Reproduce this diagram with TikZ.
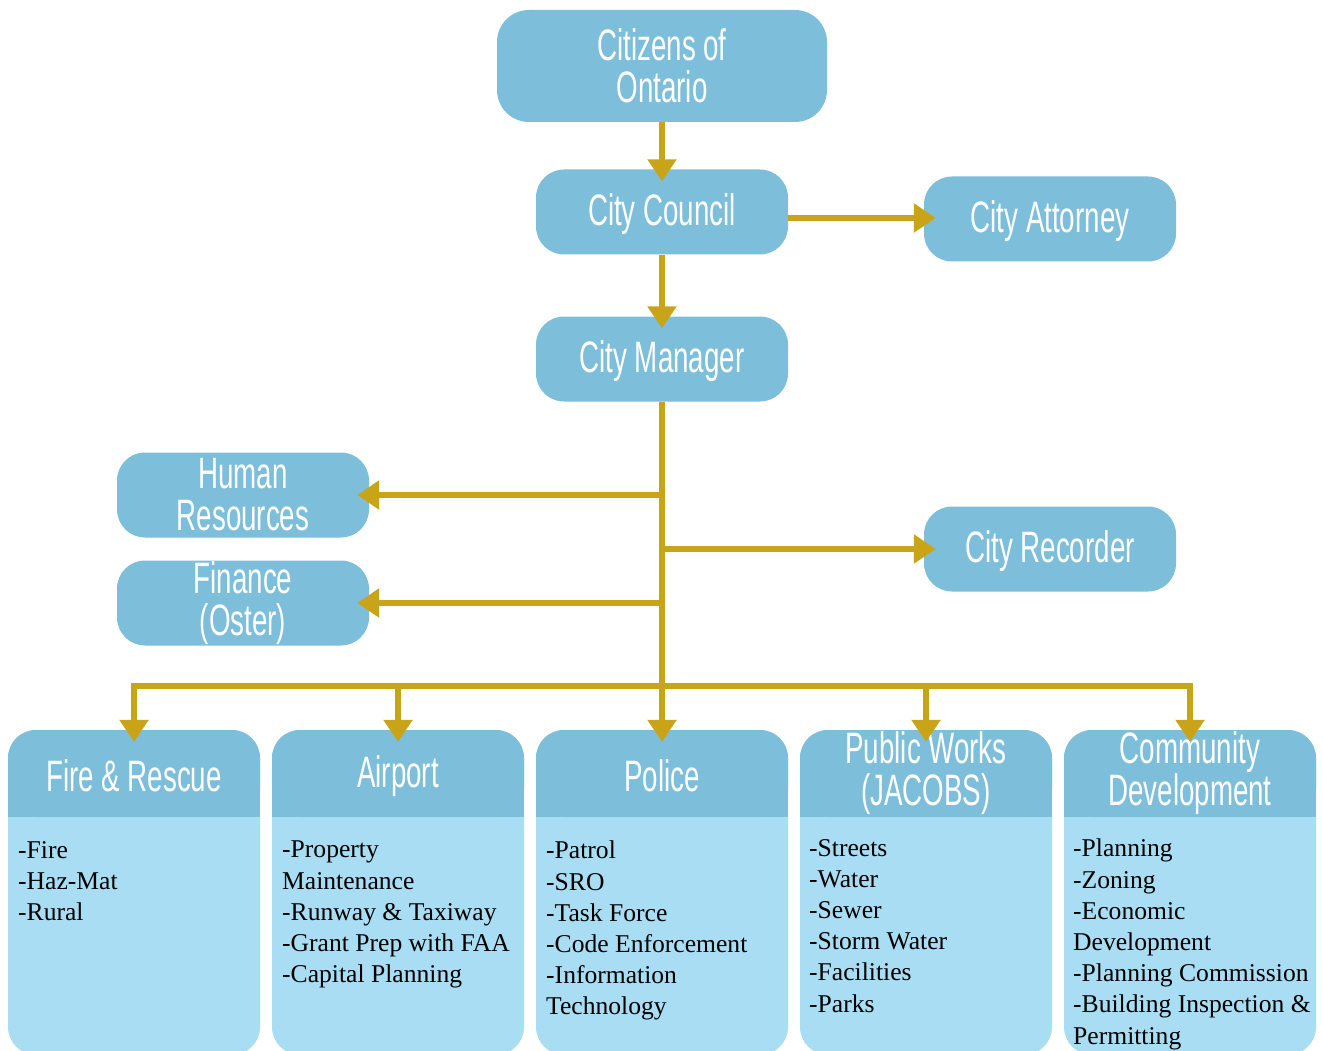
\documentclass[tikz,border=0pt]{standalone}
\usepackage{fontspec}
\setmainfont{Liberation Serif}
\newfontfamily\headfont[FakeStretch=0.63]{Liberation Sans}
\usetikzlibrary{arrows.meta,positioning}
\definecolor{boxblue}{HTML}{7DBEDB}
\definecolor{bodyblue}{HTML}{A9DDF3}
\definecolor{gold}{HTML}{C9A418}
\tikzset{
  unit/.style={rectangle, rounded corners=28pt, fill=boxblue, minimum width=252pt,
    minimum height=85pt, inner sep=0pt, text=white, align=center,
    font=\headfont\fontsize{44}{42}\selectfont},
  oneline/.style={text height=37pt},
  dept/.style={rectangle, rounded corners=28pt, fill=bodyblue, minimum width=252pt,
    minimum height=325pt, inner sep=0pt},
  duties/.style={anchor=north west, align=left, inner sep=0pt,
    font=\fontsize{25.6}{31.2}\selectfont},
  link/.style={draw=gold, line width=6pt},
  arr/.style={link, -{Triangle[width=28pt,length=22pt]}, shorten >=-12pt},
}
\begin{document}
\begin{tikzpicture}[x=1pt, y=-1pt]
\path[use as bounding box, clip] (0,0) rectangle (1323,1051);
% top of the chart
\node[unit, minimum width=330pt, minimum height=112pt, rounded corners=32pt] (citizens) at (662,66) {Citizens of\\Ontario};
\node[unit, oneline] (council) at (662,212) {City Council};
\node[unit, oneline] (attorney) at (1050,219) {City Attorney};
\node[unit, oneline] (manager) at (662,359) {City Manager};
\node[unit] (hr) at (243,495) {Human\\Resources};
\node[unit, oneline] (recorder) at (1050,549) {City Recorder};
\node[unit] (finance) at (243,603) {Finance\\(Oster)};
\coordinate (bus) at (662,686);
% departments
\node[dept] (fire) at (134,892.5) {};
\fill[boxblue] ([yshift=-40pt]fire.north west) rectangle ([yshift=-87pt]fire.north east);
\node[unit, oneline, minimum height=87pt] (fireh) at (134,773.5) {Fire \& Rescue};
\node[duties] (firelist) at (18,841) {-Fire\\-Haz-Mat\\-Rural};
\node[dept] (airport) at (398,892.5) {};
\fill[boxblue] ([yshift=-40pt]airport.north west) rectangle ([yshift=-87pt]airport.north east);
\node[unit, oneline, minimum height=87pt] (airporth) at (398,773.5) {Airport};
\node[duties] (airportlist) at (282,841) {-Property\\Maintenance\\-Runway \& Taxiway\\-Grant Prep with FAA\\-Capital Planning};
\node[dept] (police) at (662,892.5) {};
\fill[boxblue] ([yshift=-40pt]police.north west) rectangle ([yshift=-87pt]police.north east);
\node[unit, oneline, minimum height=87pt] (policeh) at (662,773.5) {Police};
\node[duties] (policelist) at (546,841) {-Patrol\\-SRO\\-Task Force\\-Code Enforcement\\-Information\\Technology};
\node[dept] (pubworks) at (926,892.5) {};
\fill[boxblue] ([yshift=-40pt]pubworks.north west) rectangle ([yshift=-87pt]pubworks.north east);
\node[unit, minimum height=87pt] (pubworksh) at (926,773.5) {Public Works\\(JACOBS)};
\node[duties] (pubworkslist) at (809,839) {-Streets\\-Water\\-Sewer\\-Storm Water\\-Facilities\\-Parks};
\node[dept] (commdev) at (1190,892.5) {};
\fill[boxblue] ([yshift=-40pt]commdev.north west) rectangle ([yshift=-87pt]commdev.north east);
\node[unit, minimum height=87pt] (commdevh) at (1190,773.5) {Community\\Development};
\node[duties] (commdevlist) at (1073,839) {-Planning\\-Zoning\\-Economic\\Development\\-Planning Commission\\-Building Inspection \&\\Permitting};
% connectors
\draw[arr] (citizens) -- (council);
\draw[arr] (council) -- (manager);
\draw[arr] (council.east |- 0,218) -- (attorney.west |- 0,218);
\draw[link] (manager) -- (bus);
\draw[arr] (manager.south |- 0,495) -- (hr.east |- 0,495);
\draw[arr] (manager.south |- 0,549) -- (recorder.west |- 0,549);
\draw[arr] (manager.south |- 0,603) -- (finance.east |- 0,603);
\draw[arr] (bus) -| (fireh);
\draw[arr] (bus) -| (airporth);
\draw[arr] (bus) -- (policeh);
\draw[arr] (bus) -| (pubworksh);
\draw[arr] (bus) -| (commdevh);
\end{tikzpicture}
\end{document}
